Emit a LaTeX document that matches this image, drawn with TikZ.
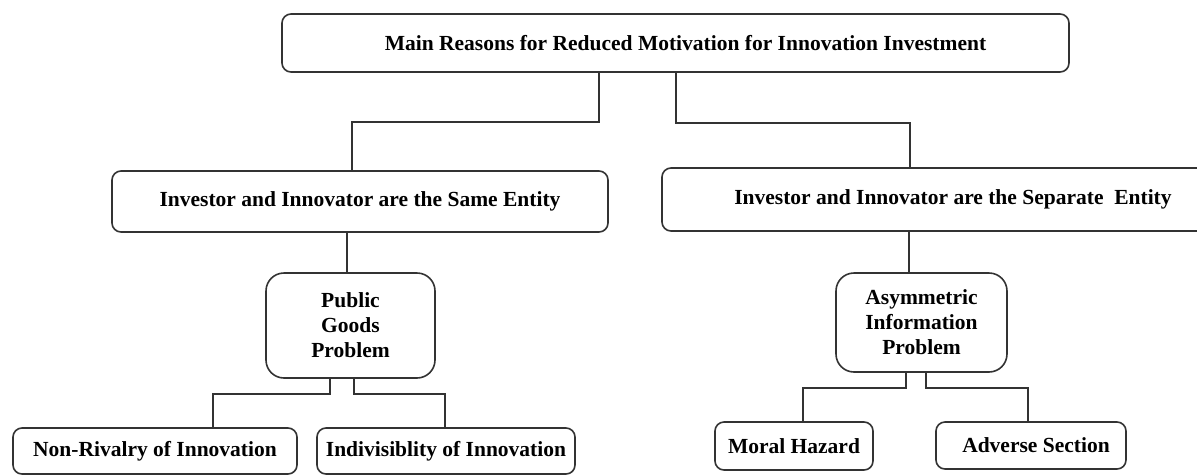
\documentclass[tikz,border=0pt]{standalone}
\usepackage{fontspec}
\setmainfont{Liberation Serif}
\begin{document}
\begin{tikzpicture}[x=1pt,y=-1pt,
  box/.style={draw=black!80,line width=1.6pt,rounded corners=9pt,align=center,inner sep=0pt,
    font=\fontsize{21.5}{25}\selectfont\bfseries},
  bigbox/.style={box,rounded corners=18pt},
  link/.style={draw=black!80,line width=1.5pt}]
\useasboundingbox (0,0) rectangle (1197,475);
\pgfmathsetmacro{\kdrop}{15}
\node[box,minimum width=787pt,minimum height=58pt] (main) at (675.5,43) {\hspace*{20pt}Main Reasons for Reduced Motivation for Innovation Investment};
\node[box,minimum width=496pt,minimum height=61pt] (same) at (360,201.5) {Investor and Innovator are the Same Entity};
\node[box,minimum width=582pt,minimum height=63pt] (sep) at (953,199.5) {Investor and Innovator are the Separate~ Entity};
\node[bigbox,minimum width=169pt,minimum height=105pt] (pub) at (350.5,325.5) {Public\\Goods\\Problem};
\node[bigbox,minimum width=171pt,minimum height=99pt] (asym) at (921.5,322.5) {Asymmetric\\Information\\Problem};
\node[box,minimum width=284pt,minimum height=46pt] (nonriv) at (155,451) {Non-Rivalry of Innovation};
\node[box,minimum width=258pt,minimum height=46pt] (indiv) at (446,451) {Indivisiblity of Innovation};
\node[box,minimum width=158pt,minimum height=48pt] (moral) at (794,446) {Moral Hazard};
\node[box,minimum width=190pt,minimum height=47pt] (adverse) at (1031,445.5) {\hspace*{10pt}Adverse Section};
\draw[link]([xshift=-76.5pt]main.south)--++(0,49)-|([xshift=-8pt]same.north);
\draw[link]([xshift=0.5pt]main.south)--++(0,50)-|([xshift=-43pt]sep.north);
\draw[link]([xshift=-3.5pt]pub.north)--([xshift=-3.5pt]pub.north|-same.south);
\draw[link]([xshift=-12.5pt]asym.north)--([xshift=-12.5pt]asym.north|-sep.south);
\draw[link]([xshift=-20.5pt]pub.south)--++(0,\kdrop)-|([xshift=58pt]nonriv.north);
\draw[link]([xshift=3.5pt]pub.south)--++(0,\kdrop)-|([xshift=-1pt]indiv.north);
\draw[link]([xshift=-15.5pt]asym.south)--++(0,\kdrop)-|([xshift=9pt]moral.north);
\draw[link]([xshift=4.5pt]asym.south)--++(0,\kdrop)-|([xshift=-3pt]adverse.north);
\end{tikzpicture}
\end{document}
